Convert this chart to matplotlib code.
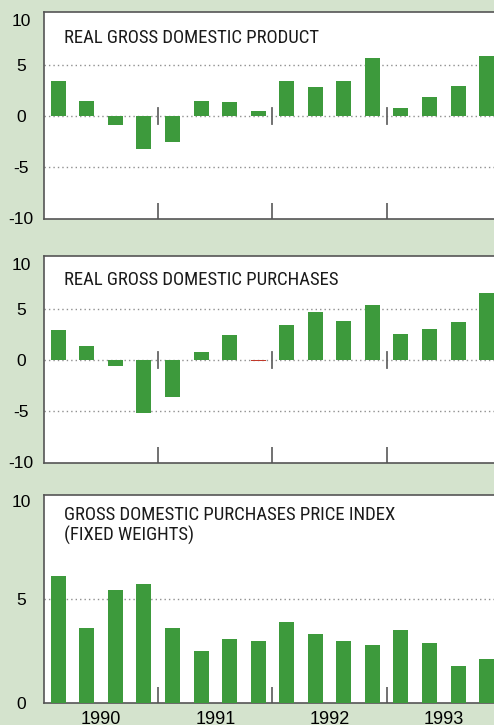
import numpy as np
import matplotlib.pyplot as plt
import matplotlib.font_manager as fm

years = ['1990', '1991', '1992', '1993']
gdp = [3.4, 1.5, -0.9, -3.2, -2.5, 1.5, 1.4, 0.5, 3.4, 2.8, 3.4, 5.7, 0.8, 1.9, 2.9, 5.9]
purchases = [2.9, 1.4, -0.6, -5.2, -3.6, 0.8, 2.4, -0.08, 3.4, 4.7, 3.8, 5.4, 2.5, 3.0, 3.7, 6.5]
price_index = [6.1, 3.6, 5.45, 5.7, 3.6, 2.5, 3.1, 3.0, 3.9, 3.3, 3.0, 2.8, 3.5, 2.9, 1.8, 2.1]
titles = ['REAL GROSS DOMESTIC PRODUCT',
          'REAL GROSS DOMESTIC PURCHASES',
          'GROSS DOMESTIC PURCHASES PRICE INDEX\n(FIXED WEIGHTS)']

# look for a condensed sans face, else plain Liberation Sans
title_font = None
for f in fm.fontManager.ttflist:
    if f.name in ('Liberation Sans Narrow', 'Roboto Condensed', 'Noto Sans', 'Open Sans') \
            and f.style == 'normal' and f.weight in (400, 'normal', 'regular') \
            and f.stretch in ('condensed', 'semi-condensed', 500 - 100, 'narrow'):
        title_font = fm.FontProperties(fname=f.fname)
        break
if title_font is None:
    for f in fm.fontManager.ttflist:
        if f.name == 'Liberation Sans Narrow' and f.style == 'normal':
            title_font = fm.FontProperties(fname=f.fname)
            break
if title_font is None:
    title_font = fm.FontProperties(family='Liberation Sans')

plt.rcParams['font.family'] = ['Liberation Sans', 'DejaVu Sans']

bg = '#d4e3cd'
green = '#3d9a3c'
W, H = 494, 725
fig = plt.figure(figsize=(W / 100, H / 100), dpi=100, facecolor=bg)

# size the title font so the first title is ~262 px wide, as in the reference
probe = fig.text(0, 0, titles[0], fontproperties=title_font, fontsize=12)
r = fig.canvas.get_renderer()
w = probe.get_window_extent(r).width
probe.remove()
tsize = min(13.5, 12 * 262 / w)

# (top, bottom) in pixels, and title offset from the top
boxes = [(12, 219), (256, 463), (495, 703)]
toff = [17, 15, 11]
series = [gdp, purchases, price_index]
x = np.arange(16)

for k, (top, bot) in enumerate(boxes):
    ax = fig.add_axes([44 / W, 1 - bot / H, 1 - 44 / W, (bot - top) / H])
    ax.set_facecolor('white')
    vals = series[k]
    colors = [green if abs(v) > 0.2 else '#c0392b' for v in vals]
    ax.bar(x, vals, width=0.525, color=colors, zorder=3)
    ax.set_xlim(-0.5, 15.26)
    if k < 2:
        ax.set_ylim(-10.05, 10.15)
        grid = [5, 0, -5]
        yt = [-10, -5, 0, 5, 10]
    else:
        ax.set_ylim(0, 10)
        grid = [5]
        yt = [0, 5, 10]
    for g in grid:
        ax.axhline(g, color='#8f8f8f', lw=1, ls=(0, (1, 2.2)), zorder=1)
    ax.set_yticks(yt)
    ax.set_yticklabels([str(t) for t in yt])
    ax.tick_params(axis='y', length=0, pad=16.5, labelsize=12.5)
    for t in ax.get_yticklabels():
        t.set_ha('center')
    ax.yaxis.get_major_ticks()[-1].label1.set_va('top')

    ax.set_xticks([3.5, 7.5, 11.5])
    ax.set_xticklabels([])
    ax.tick_params(axis='x', which='major', direction='in', length=11.5,
                   width=1.3, color='#666666')
    if k < 2:
        for b in [3.5, 7.5, 11.5]:
            ax.plot([b, b], [-0.78, 0.78], color='#666666', lw=1.3, zorder=2)
    if k == 2:
        ax.set_xticks([1.5, 5.5, 9.5, 13.5], minor=True)
        ax.set_xticklabels(years, minor=True)
        ax.tick_params(axis='x', which='minor', length=0, pad=6, labelsize=13)

    for s in ['top', 'left', 'bottom']:
        ax.spines[s].set_color('#555555')
        ax.spines[s].set_linewidth(1.2)
    ax.spines['right'].set_visible(False)

    ax.annotate(titles[k], xy=(0, 1), xycoords='axes fraction',
                xytext=(20, -toff[k]), textcoords='offset pixels',
                va='top', ha='left', fontproperties=title_font, fontsize=tsize,
                color='#1a1a1a', linespacing=1.15)

fig.savefig('out.png', dpi=100, facecolor=bg)
